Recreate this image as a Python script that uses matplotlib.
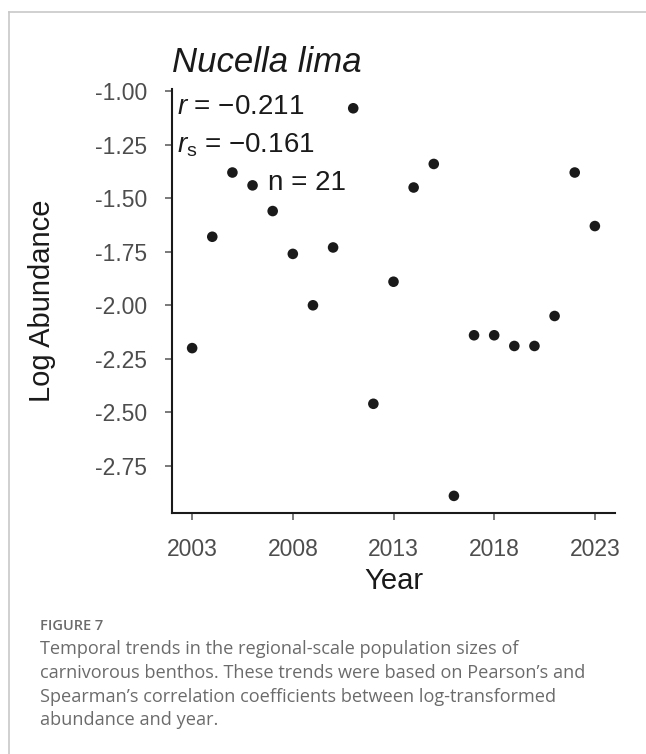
import matplotlib
matplotlib.use("Agg")
import matplotlib.pyplot as plt
from matplotlib.lines import Line2D

plt.rcParams["font.family"] = ["Liberation Sans", "DejaVu Sans"]
plt.rcParams["mathtext.fontset"] = "custom"
plt.rcParams["mathtext.rm"] = "Liberation Sans"
plt.rcParams["mathtext.it"] = "Liberation Sans:italic"

# Log abundance of Nucella lima per survey year
years = [2003, 2004, 2005, 2006, 2007, 2008, 2009, 2010, 2011, 2012, 2013,
         2014, 2015, 2016, 2017, 2018, 2019, 2020, 2021, 2022, 2023]
log_abundance = [-2.20, -1.68, -1.38, -1.44, -1.56, -1.76, -2.00, -1.73,
                 -1.08, -2.46, -1.89, -1.45, -1.34, -2.89, -2.14, -2.14,
                 -2.19, -2.19, -2.05, -1.38, -1.63]

x_ticks = [2003, 2008, 2013, 2018, 2023]
y_ticks = [-1.00, -1.25, -1.50, -1.75, -2.00, -2.25, -2.50, -2.75]
y_tick_labels = ["-1.00", "-1.25", "-1.50", "-1.75", "-2.00", "-2.25", "-2.50", "-2.75"]

species = "Nucella lima"
pearson_r = "\u22120.211"
spearman_rs = "\u22120.161"
n_obs = 21

caption_head = "FIGURE 7"
caption_lines = [
    "Temporal trends in the regional-scale population sizes of",
    "carnivorous benthos. These trends were based on Pearson\u2019s and",
    "Spearman\u2019s correlation coefficients between log-transformed",
    "abundance and year.",
]

W, H = 646, 754
fig = plt.figure(figsize=(W / 100, H / 100), dpi=100)


def fx(px):
    return px / W


def fy(py):
    return 1 - py / H


# panel box in pixels
left, right, top, bottom = 172, 615, 89, 513
ax = fig.add_axes([fx(left), fy(bottom), fx(right - left), (bottom - top) / H])

ax.scatter(years, log_abundance, s=58, color="#1a1a1a", edgecolors="none", zorder=3)

ax.set_xlim(2002, 2024)
ax.set_ylim(-2.97, -0.99)
ax.set_xticks(x_ticks)
ax.set_xticklabels([str(t) for t in x_ticks])
ax.set_yticks(y_ticks)
ax.set_yticklabels(y_tick_labels)

for side in ("top", "right"):
    ax.spines[side].set_visible(False)
for side in ("left", "bottom"):
    ax.spines[side].set_linewidth(1.5)
    ax.spines[side].set_color("#1a1a1a")

ax.tick_params(axis="both", direction="out", length=5, width=1.1,
               color="#555555", labelcolor="#4d4d4d", labelsize=16.5, pad=13)

ax.set_xlabel("Year", fontsize=21, color="#1a1a1a", labelpad=4)
ax.set_ylabel("Log Abundance", fontsize=21, color="#1a1a1a", labelpad=28)

# title and statistics
fig.text(fx(172), fy(63), species, fontsize=25, style="italic",
         color="#1a1a1a", ha="left", va="center")
fig.text(fx(177), fy(107), r"$r$ = " + pearson_r, fontsize=20,
         color="#1a1a1a", ha="left", va="center")
fig.text(fx(177), fy(145), r"$r_{\mathrm{s}}$ = " + spearman_rs, fontsize=20,
         color="#1a1a1a", ha="left", va="center")
fig.text(fx(268), fy(183), f"n = {n_obs}", fontsize=20,
         color="#1a1a1a", ha="left", va="center")

# page frame
frame_kw = dict(color="#c8c8c8", linewidth=1.2, transform=fig.transFigure)
fig.add_artist(Line2D([fx(9), fx(9)], [fy(12), 0], **frame_kw))
fig.add_artist(Line2D([fx(9), 1], [fy(12), fy(12)], **frame_kw))

# caption
fig.text(fx(40), fy(626), caption_head, fontsize=10.5, color="#6b6b6b",
         family="Open Sans", weight="semibold", ha="left", va="center")
for i, line in enumerate(caption_lines):
    fig.text(fx(40), fy(649 + i * 23.8), line, fontsize=13.1, color="#6b6b6b",
             family="Open Sans", ha="left", va="center")

fig.savefig("out.png", dpi=100)
